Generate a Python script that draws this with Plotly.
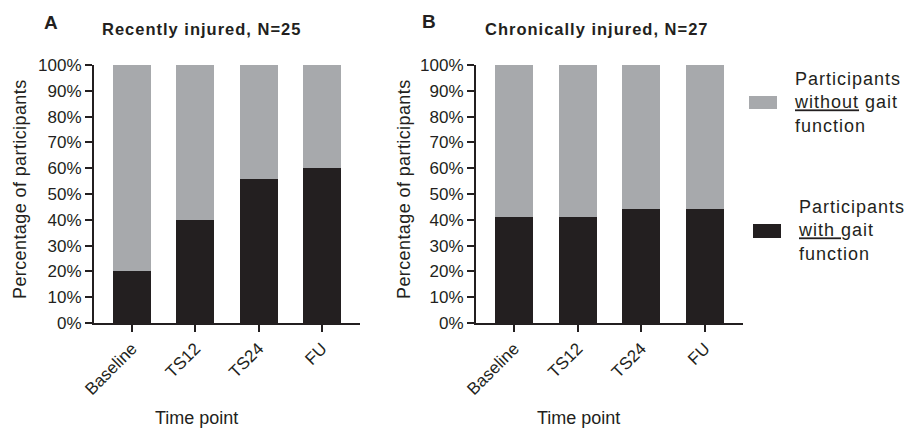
import plotly.graph_objects as go

# ---- data ----
timepoints = ["Baseline", "TS12", "TS24", "FU"]
recent_with = [20, 40, 56, 60]
recent_without = [80, 60, 44, 40]
chronic_with = [41, 41, 44, 44]
chronic_without = [59, 59, 56, 56]
y_ticks = [0, 10, 20, 30, 40, 50, 60, 70, 80, 90, 100]
y_ticklabels = [f"{v}%" for v in y_ticks]

W, H = 920, 429
def px(x):
    return x / W
def py(y):
    return 1 - y / H

BLACK = "#231F20"
GRAY = "#A7A9AC"
FONT = "Liberation Sans, Arial, sans-serif"

fig = go.Figure()
for xa, ya, w, wo in [("x", "y", recent_with, recent_without),
                      ("x2", "y2", chronic_with, chronic_without)]:
    fig.add_trace(go.Bar(x=timepoints, y=w, xaxis=xa, yaxis=ya, marker_color=BLACK,
                         marker_line_width=0, width=0.6, showlegend=False,
                         name="Participants with gait function"))
    fig.add_trace(go.Bar(x=timepoints, y=wo, xaxis=xa, yaxis=ya, marker_color=GRAY,
                         marker_line_width=0, width=0.6, showlegend=False,
                         name="Participants without gait function"))

axis_common = dict(showline=True, linecolor=BLACK, linewidth=2, showgrid=False,
                   zeroline=False, ticks="outside", tickcolor=BLACK, tickwidth=2,
                   ticklen=7, tickfont=dict(family=FONT, size=17, color=BLACK),
                   automargin=False)

ydom = [py(323), py(65)]
fig.update_layout(
    width=W, height=H, barmode="stack",
    margin=dict(l=0, r=0, t=0, b=0),
    paper_bgcolor="white", plot_bgcolor="white",
    font=dict(family=FONT, color=BLACK),
    xaxis=dict(domain=[px(94), px(360)], anchor="y", range=[-0.6, 3.6],
               tickangle=-45, **axis_common),
    yaxis=dict(domain=ydom, anchor="x", range=[0, 100], tickvals=y_ticks,
               ticktext=y_ticklabels, **axis_common),
    xaxis2=dict(domain=[px(476), px(743)], anchor="y2", range=[-0.6, 3.6],
                tickangle=-45, **axis_common),
    yaxis2=dict(domain=ydom, anchor="x2", range=[0, 100], tickvals=y_ticks,
                ticktext=y_ticklabels, **axis_common),
)

ann = []
def add_text(text, x, y, size, bold=False, xanchor="center", yanchor="middle",
             angle=0, align="center", spacing=None):
    if spacing is not None:
        text = f'<span style="letter-spacing:{spacing}px">{text}</span>'
    ann.append(dict(text=f"<b>{text}</b>" if bold else text, x=px(x), y=py(y),
                    xref="paper", yref="paper", showarrow=False, xanchor=xanchor,
                    yanchor=yanchor, textangle=angle, align=align,
                    font=dict(family=FONT, size=size, color=BLACK)))

add_text("A", 51, 22, 19, bold=True)
add_text("B", 429, 21, 19, bold=True)
add_text("Recently injured, N=25", 100, 29, 16.5, bold=True, xanchor="left", spacing=1)
add_text("Chronically injured, N=27", 483, 29, 16.5, bold=True, xanchor="left", spacing=1)
add_text("Percentage of participants", 20, 189, 18, angle=-90, spacing=0.4)
add_text("Percentage of participants", 404, 189, 18, angle=-90, spacing=0.4)
add_text("Time point", 196, 418, 18)
add_text("Time point", 578, 418, 18)
LS = 1.0
add_text(f'<span style="letter-spacing:{LS}px">Participants</span><br>'
         f'<span style="letter-spacing:{LS}px"><u>without</u> gait</span><br>'
         f'<span style="letter-spacing:{LS}px">function</span>', 792, 103, 18,
         xanchor="left", align="left")
add_text(f'<span style="letter-spacing:{LS}px">Participants</span><br>'
         f'<span style="letter-spacing:{LS}px"><u>with </u>gait</span><br>'
         f'<span style="letter-spacing:{LS}px">function</span>', 796, 230, 18,
         xanchor="left", align="left")
fig.update_layout(annotations=ann)

fig.add_shape(type="rect", xref="paper", yref="paper", x0=px(749), x1=px(777),
              y0=py(109), y1=py(96), fillcolor=GRAY, line_width=0)
fig.add_shape(type="rect", xref="paper", yref="paper", x0=px(753), x1=px(781),
              y0=py(238), y1=py(224), fillcolor=BLACK, line_width=0)

fig.write_html("out.html")
